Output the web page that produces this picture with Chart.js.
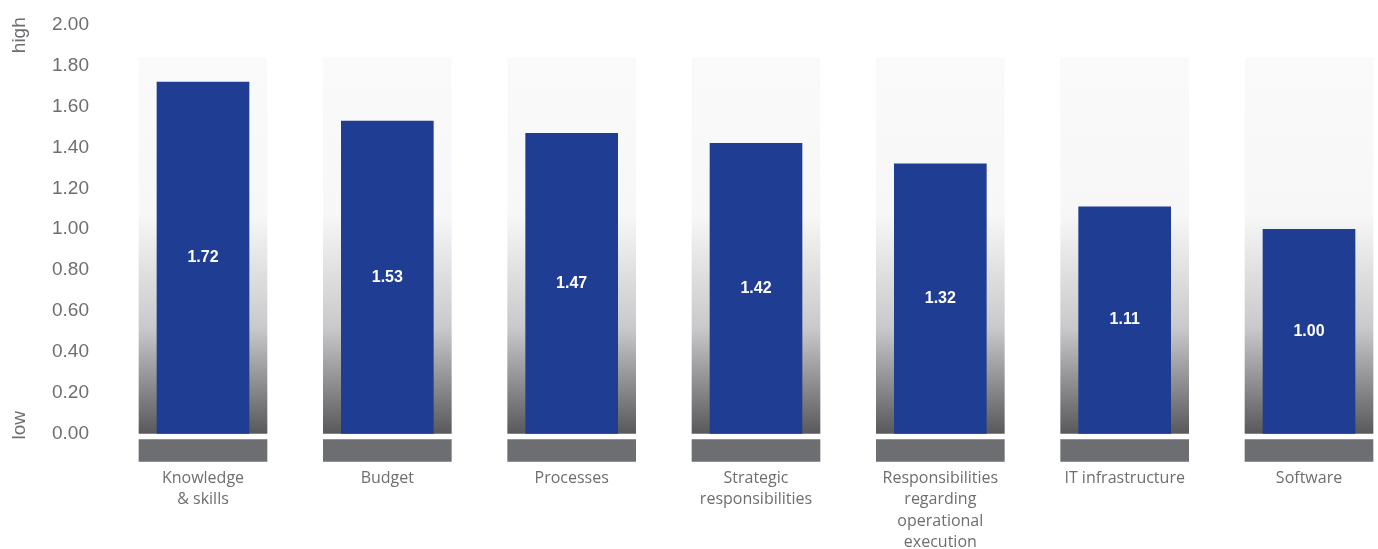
<!DOCTYPE html>
<html>
<head>
<meta charset="utf-8">
<script src="https://cdn.jsdelivr.net/npm/chart.js@4.4.1/dist/chart.umd.min.js"></script>
<style>
  html, body { margin: 0; padding: 0; background: #ffffff; }
  #wrap { width: 1378px; height: 549px; }
</style>
</head>
<body>
<div id="wrap"><canvas id="myChart" width="1378" height="549"></canvas></div>
<script>
// categories and scores
var categories = [
  ['Knowledge', '& skills'],
  'Budget',
  'Processes',
  ['Strategic', 'responsibilities'],
  ['Responsibilities', 'regarding', 'operational', 'execution'],
  'IT infrastructure',
  'Software'
];
var scores = [1.72, 1.53, 1.47, 1.42, 1.32, 1.11, 1.00];
var tickValues = [0, 0.2, 0.4, 0.6, 0.8, 1.0, 1.2, 1.4, 1.6, 1.8, 2.0];
var columnRange = [0, 1.84];     // shaded column behind each bar
var baseRange = [-0.03, -0.137]; // grey plinth under each column

const ctx = document.getElementById('myChart').getContext('2d');
const grey = '#6d6e71';

function columnGradient(context) {
  const chart = context.chart;
  if (!chart.chartArea) return '#eeeeee';
  const y = chart.scales.y;
  const top = y.getPixelForValue(columnRange[1]);
  const bottom = y.getPixelForValue(columnRange[0]);
  const g = chart.ctx.createLinearGradient(0, top, 0, bottom);
  g.addColorStop(0, '#fafafa');
  g.addColorStop(0.42, '#f7f7f7');
  g.addColorStop(0.72, '#c9c9cb');
  g.addColorStop(1, '#59595b');
  return g;
}

// white numbers in the middle of each blue bar
const valueLabels = {
  id: 'valueLabels',
  afterDatasetsDraw(chart) {
    const meta = chart.getDatasetMeta(2);
    const c = chart.ctx;
    c.save();
    c.fillStyle = '#ffffff';
    c.font = 'bold 16px "Liberation Sans", Arial, sans-serif';
    c.textAlign = 'center';
    c.textBaseline = 'middle';
    meta.data.forEach(function (bar, i) {
      c.fillText(scores[i].toFixed(2), bar.x, (bar.y + bar.base) / 2);
    });
    c.restore();
  }
};

// "high" / "low" markers beside the value axis
const axisEnds = {
  id: 'axisEnds',
  afterDraw(chart) {
    const c = chart.ctx;
    const y = chart.scales.y;
    c.save();
    c.fillStyle = grey;
    c.font = '19px "Liberation Sans", Arial, sans-serif';
    c.textAlign = 'center';
    c.textBaseline = 'middle';
    [['high', y.getPixelForValue(1.95)], ['low', y.getPixelForValue(0.04)]].forEach(function (t) {
      c.save();
      c.translate(20, t[1]);
      c.rotate(-Math.PI / 2);
      c.fillText(t[0], 0, 0);
      c.restore();
    });
    c.restore();
  }
};

let myChart = new Chart(ctx, {
  type: 'bar',
  data: {
    labels: categories,
    datasets: [{
      data: categories.map(function () { return columnRange; }),
      backgroundColor: columnGradient,
      barThickness: 128,
      grouped: false,
      order: 3,
      clip: false
    }, {
      data: categories.map(function () { return baseRange; }),
      backgroundColor: grey,
      barThickness: 128,
      grouped: false,
      order: 2,
      clip: false
    }, {
      data: scores,
      backgroundColor: '#1f3d93',
      barThickness: 92,
      grouped: false,
      order: 1,
      clip: false
    }]
  },
  options: {
    responsive: false,
    animation: false,
    layout: { padding: { top: 25, right: 69, left: 52, bottom: 0 } },
    plugins: {
      legend: { display: false },
      tooltip: { enabled: false },
      title: { display: false }
    },
    scales: {
      x: {
        offset: false,
        grid: { display: false, drawTicks: false },
        border: { display: false },
        ticks: {
          color: grey,
          font: { family: '"Open Sans", sans-serif', size: 16, lineHeight: 1.33 },
          padding: 6,
          maxRotation: 0,
          autoSkip: false
        },
        afterFit: function (scale) { scale.height = 87; }
      },
      y: {
        min: -0.14,
        max: 2,
        grid: { display: false, drawTicks: false },
        border: { display: false },
        afterBuildTicks: function (scale) {
          scale.ticks = tickValues.map(function (v) { return { value: v }; });
        },
        afterFit: function (scale) { scale.width = 151; },
        ticks: {
          color: grey,
          padding: 4,
          crossAlign: 'far',
          font: { family: '"Liberation Sans", Arial, sans-serif', size: 19 },
          callback: function (v) { return Number(v).toFixed(2); }
        }
      }
    }
  },
  plugins: [valueLabels, axisEnds]
});
</script>
</body>
</html>
